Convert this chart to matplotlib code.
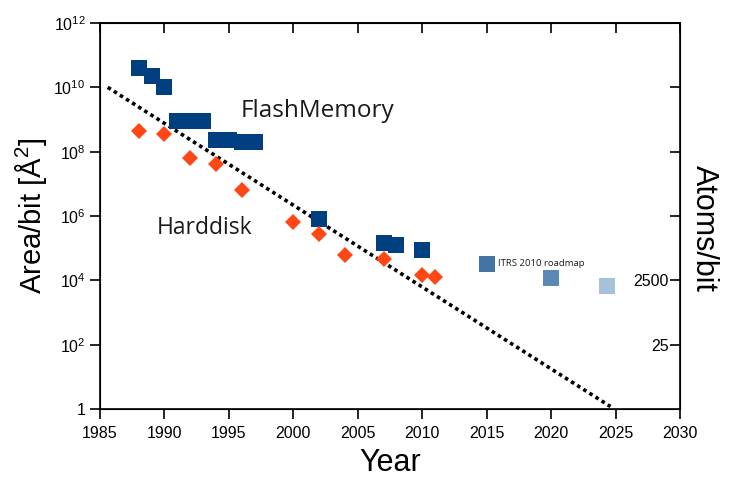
import matplotlib
matplotlib.use('Agg')
import matplotlib.pyplot as plt

plt.rcParams['font.family'] = ['Liberation Sans', 'DejaVu Sans']

# Flash memory (dark blue squares)
flash_years = [1988, 1989, 1990, 1991, 1992, 1993, 1994, 1995, 1996, 1997, 2002, 2007, 2008, 2010]
flash_area = [4e10, 2.2e10, 1.0e10, 9e8, 9e8, 9e8, 2.3e8, 2.3e8, 2.0e8, 2.0e8, 8e5, 1.5e5, 1.25e5, 9e4]

# ITRS 2010 roadmap projections
itrs_years = [2015, 2020, 2024.3]
itrs_area = [3.3e4, 1.2e4, 6.5e3]
itrs_colors = ['#4474a3', '#5b88b5', '#a8c0d9']

# Hard disk (red diamonds)
hdd_years = [1988, 1990, 1992, 1994, 1996, 2000, 2002, 2004, 2007, 2010, 2011]
hdd_area = [4.3e8, 3.5e8, 6.2e7, 4.1e7, 6.3e6, 6.3e5, 2.8e5, 6.3e4, 4.7e4, 1.5e4, 1.3e4]

# trend line
trend_years = [1985.6, 2024.6]
trend_area = [1e10, 1.2]

x_ticks = [1985, 1990, 1995, 2000, 2005, 2010, 2015, 2020, 2025, 2030]
y_ticks = [1, 1e2, 1e4, 1e6, 1e8, 1e10, 1e12]
y_labels = ['1', r'$\mathdefault{10^{2}}$', r'$\mathdefault{10^{4}}$', r'$\mathdefault{10^{6}}$',
            r'$\mathdefault{10^{8}}$', r'$\mathdefault{10^{10}}$', r'$\mathdefault{10^{12}}$']
atom_ticks = [1e2, 1e4, 1e6, 1e8, 1e10]
atom_labels = ['25', '2500', '', '', '']

fig = plt.figure(figsize=(7.31, 4.79), dpi=100)
ax = fig.add_axes([0.1368, 0.146, 0.7935, 0.806])

ax.plot(trend_years, trend_area, color='black', linestyle=(0, (1, 1)), linewidth=2.6, zorder=1)
ax.plot(flash_years, flash_area, 's', color='#003f80', markersize=11.5, markeredgewidth=0, zorder=2)
for yr, a, c in zip(itrs_years, itrs_area, itrs_colors):
    ax.plot(yr, a, 's', color=c, markersize=11.5, markeredgewidth=0, zorder=2)
ax.plot(hdd_years, hdd_area, 'D', color='#ff4715', markersize=8.2, markeredgewidth=0, zorder=3)

ax.set_yscale('log')
ax.set_xlim(1985, 2030)
ax.set_ylim(1, 1e12)
ax.set_xticks(x_ticks)
ax.set_yticks(y_ticks)
ax.set_yticklabels(y_labels)
ax.minorticks_off()
ax.tick_params(axis='both', which='major', labelsize=11.5, length=7, width=1.2, direction='out')
ax.tick_params(axis='x', pad=5)
for s in ax.spines.values():
    s.set_linewidth(1.2)

# top ticks, pointing inward
top = ax.secondary_xaxis('top')
top.set_xticks(x_ticks)
top.tick_params(direction='in', length=7, width=1.2, labeltop=False)
top.spines['top'].set_linewidth(1.2)

ax.set_xlabel('Year', fontsize=22, labelpad=5)
ax.set_ylabel(r'Area/bit [$\mathdefault{\AA^2}$]', fontsize=21, labelpad=3)

ax2 = ax.twinx()
ax2.set_yscale('log')
ax2.set_ylim(1, 1e12)
ax2.set_yticks(atom_ticks)
ax2.set_yticklabels(atom_labels, ha='right')
ax2.minorticks_off()
ax2.tick_params(axis='y', direction='in', length=7, width=1.2, labelsize=11.5, pad=-8)
fig.text(704 / 731, 1 - 228 / 479, 'Atoms/bit', fontsize=22, rotation=270, ha='center', va='center')

ax.text(1995.9, 1.9e9, 'FlashMemory', family=['Open Sans', 'DejaVu Sans'], fontsize=17.5,
        color='#1a1a1a', va='center', ha='left')
ax.text(1989.4, 4.4e5, 'Harddisk', family=['Open Sans', 'DejaVu Sans'], fontsize=16.5,
        color='#1a1a1a', va='center', ha='left')
ax.text(2015.9, 3.3e4, 'ITRS 2010 roadmap', family=['Open Sans', 'DejaVu Sans'], fontsize=6.8,
        color='#1a1a1a', va='center', ha='left')

fig.savefig('out.png', dpi=100)
